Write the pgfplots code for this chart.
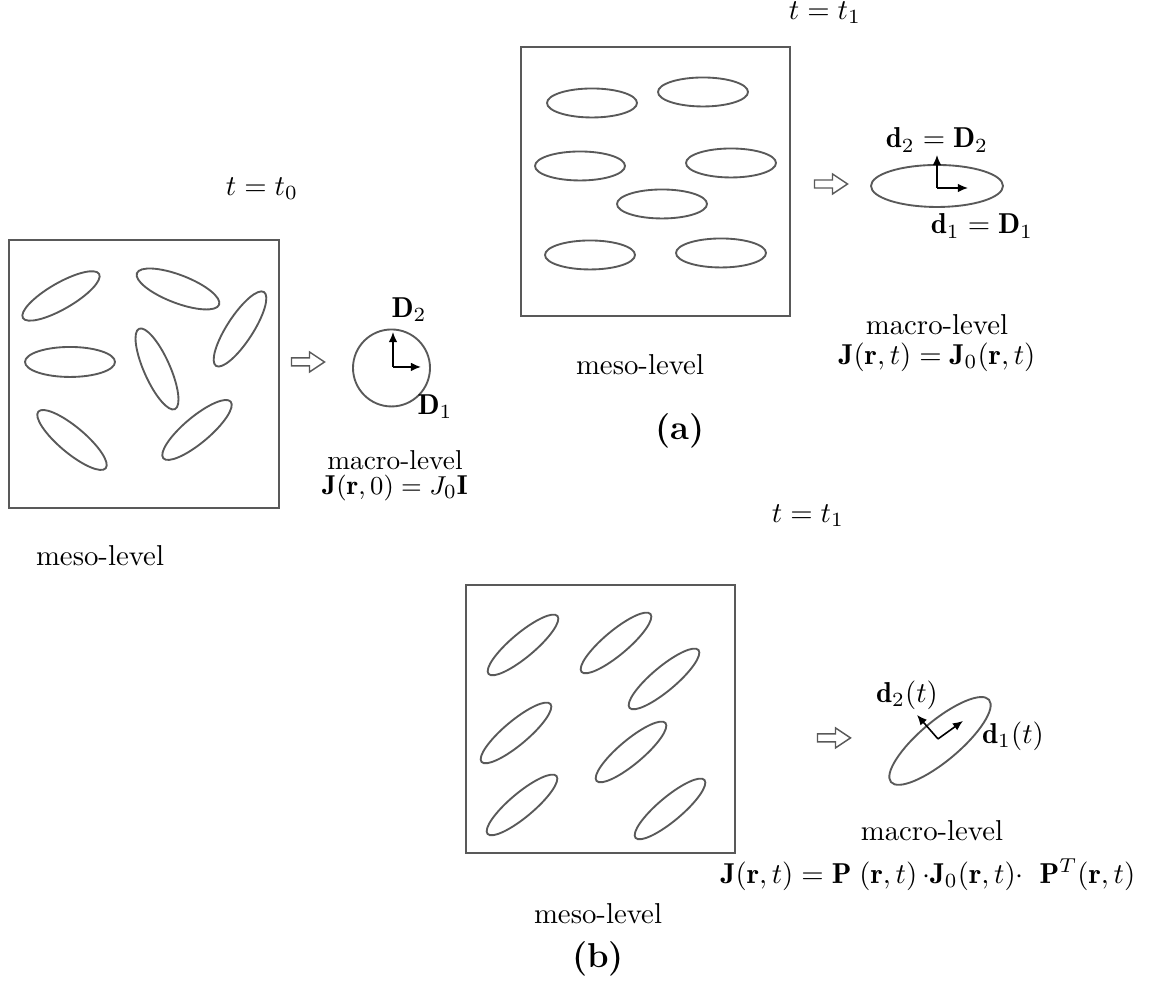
\documentclass[border=0pt]{standalone}
\usepackage{fontspec}
\usepackage{pgfplots}
\pgfplotsset{compat=1.18}
\usetikzlibrary{arrows.meta}
\definecolor{ln}{gray}{0.35}
% ellipse: x, y, semi-major, semi-minor (pixels), angle
\newcommand{\ELL}[5]{\draw[ln,line width=0.65pt,rotate around={#5:(axis cs:#1,#2)}] (axis cs:#1,#2) ellipse [x radius={#3*0.3476pt}, y radius={#4*0.3476pt}];}
\newcommand{\HARROW}[2]{\draw[ln,line width=0.5pt,shift={(axis cs:#1,#2)}] (-5.74pt,-1.39pt) -- (0.52pt,-1.39pt) -- (0.52pt,-3.48pt) -- (5.74pt,0pt) -- (0.52pt,3.48pt) -- (0.52pt,1.39pt) -- (-5.74pt,1.39pt) -- cycle;}
\begin{document}
\begin{tikzpicture}
\begin{axis}[
  scale only axis, width=399.4pt, height=344.8pt,
  xmin=0, xmax=1149, ymin=0, ymax=992,
  hide axis, clip=false,
]
\path (axis cs:0,0) rectangle (axis cs:1149,992);
% ---------- t = t0 ----------
\draw[ln,line width=0.65pt] (axis cs:9,484) rectangle (axis cs:279,752);
\ELL{61}{696}{44}{13}{30}
\ELL{178}{703}{44}{14}{-21}
\ELL{240}{663}{44}{13}{57}
\ELL{70}{630}{45}{15}{0}
\ELL{157}{623}{44}{13}{-66}
\ELL{72}{552}{44}{13}{-40}
\ELL{197}{562}{44}{13}{40}
\HARROW{308}{630}
\draw[ln,line width=0.65pt] (axis cs:391.5,624) circle [radius={38.5*0.3476pt}];
\draw[-{Latex[length=3.5pt,width=3pt]},line width=0.55pt] (axis cs:393,625) -- (axis cs:393,660);
\draw[-{Latex[length=3.5pt,width=3pt]},line width=0.55pt] (axis cs:393,625) -- (axis cs:421,625);
\node at (axis cs:409,682) {$\mathbf{D}_2$};
\node at (axis cs:435,585) {$\mathbf{D}_1$};
\node[font=\fontsize{9.5}{11}\selectfont] at (axis cs:395,532) {macro-level};
\node[font=\fontsize{9.5}{11}\selectfont] at (axis cs:395,504) {$\mathbf{J}(\mathbf{r},0)=J_0\mathbf{I}$};
\node at (axis cs:262,803) {$t=t_0$};
\node at (axis cs:100,436) {meso-level};
% ---------- (a) t = t1 ----------
\draw[ln,line width=0.65pt] (axis cs:521,676) rectangle (axis cs:790,945);
\ELL{592}{889}{45}{14.5}{0}
\ELL{703}{900}{45}{14.5}{0}
\ELL{580}{826}{45}{14.5}{0}
\ELL{731}{829}{45}{14.5}{0}
\ELL{662}{788}{45}{14.5}{0}
\ELL{590}{737}{45}{14.5}{0}
\ELL{721}{739}{45}{14.5}{0}
\HARROW{831}{808}
\ELL{937}{806}{66}{21}{0}
\draw[-{Latex[length=3.5pt,width=3pt]},line width=0.55pt] (axis cs:937,804) -- (axis cs:937,837);
\draw[-{Latex[length=3.5pt,width=3pt]},line width=0.55pt] (axis cs:937,804) -- (axis cs:968,804);
\node at (axis cs:937,852) {$\mathbf{d}_2=\mathbf{D}_2$};
\node at (axis cs:982,766) {$\mathbf{d}_1=\mathbf{D}_1$};
\node at (axis cs:937,667) {macro-level};
\node at (axis cs:937,635) {$\mathbf{J}(\mathbf{r},t)=\mathbf{J}_0(\mathbf{r},t)$};
\node at (axis cs:825,979) {$t=t_1$};
\node at (axis cs:640,627) {meso-level};
\node at (axis cs:680,561) {\bfseries\fontsize{12}{14}\selectfont (a)};
% ---------- (b) t = t1 ----------
\draw[ln,line width=0.65pt] (axis cs:466,139) rectangle (axis cs:735,407);
\ELL{523}{347}{45}{12}{40}
\ELL{616}{349}{45}{12}{40}
\ELL{664}{313}{45}{12}{40}
\ELL{516}{259}{45}{12}{40}
\ELL{631}{240}{45}{12}{40}
\ELL{522}{187}{45}{12}{40}
\ELL{670}{183}{45}{12}{40}
\HARROW{834}{254}
\ELL{940}{251}{64}{20}{40}
\draw[-{Latex[length=3.5pt,width=3pt]},line width=0.55pt] (axis cs:938,253) -- (axis cs:963,271);
\draw[-{Latex[length=3.5pt,width=3pt]},line width=0.55pt] (axis cs:938,253) -- (axis cs:917,277);
\node at (axis cs:907,297) {$\mathbf{d}_2(t)$};
\node at (axis cs:1013,256) {$\mathbf{d}_1(t)$};
\node at (axis cs:932,161) {macro-level};
\node at (axis cs:928,117) {$\mathbf{J}(\mathbf{r},t)\;{=}\;\mathbf{P}\;(\mathbf{r},t)\,{\cdot}\mathbf{J}_0(\mathbf{r},t){\cdot}\;\;\mathbf{P}^T(\mathbf{r},t)$};
\node at (axis cs:808,476) {$t=t_1$};
\node at (axis cs:598,78) {meso-level};
\node at (axis cs:598,33) {\bfseries\fontsize{12}{14}\selectfont (b)};
\end{axis}
\pgfresetboundingbox
\path (current axis.south west) rectangle (current axis.north east);
\end{tikzpicture}
\end{document}
